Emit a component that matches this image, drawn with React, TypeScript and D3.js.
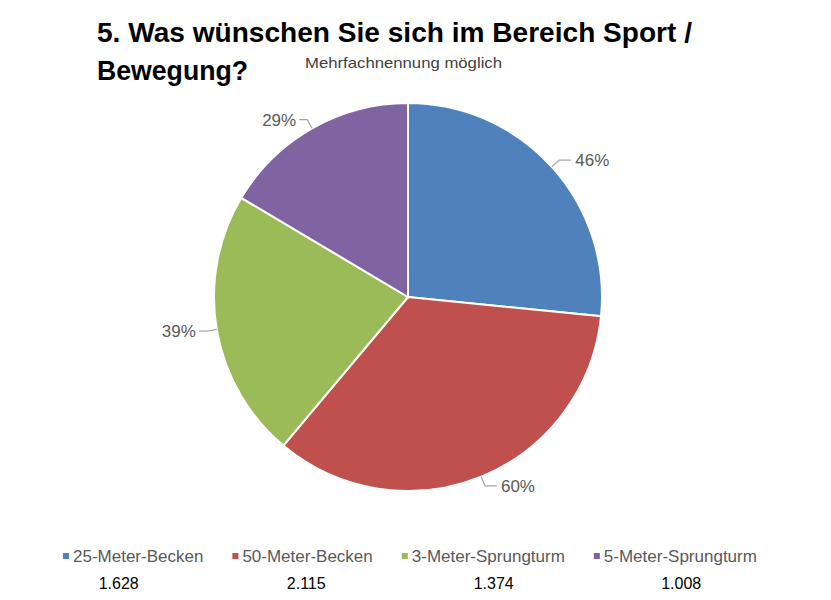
import { useRef, useEffect } from 'react';
import * as d3 from 'd3';

const categories = ['25-Meter-Becken', '50-Meter-Becken', '3-Meter-Sprungturm', '5-Meter-Sprungturm'];
const counts = [1628, 2115, 1374, 1008];
const percentLabels = ['46%', '60%', '39%', '29%'];
const countLabels = ['1.628', '2.115', '1.374', '1.008'];
const colors = ['#4F81BD', '#C0504D', '#9BBB59', '#8064A2'];

const titleLines = ['5. Was wünschen Sie sich im Bereich Sport /', 'Bewegung?'];
const subtitle = 'Mehrfachnennung möglich';

export default function App() {
    const svgRef = useRef<SVGSVGElement>(null);

    useEffect(() => {
        if (!svgRef.current) return;
        const width = 831;
        const height = 600;
        const cx = 408;
        const cy = 297;
        const radius = 194;
        const font = '"Liberation Sans", Arial, sans-serif';

        const svg = d3.select(svgRef.current);
        svg.selectAll('*').remove();
        svg.attr('width', width).attr('height', height);

        svg.append('rect').attr('width', width).attr('height', height).attr('fill', '#fff');

        // Title (condensed to fit the original line widths)
        const titleLengths = [595, 151];
        titleLines.forEach((line, i) => {
            svg.append('text')
                .attr('x', 97)
                .attr('y', 42 + i * 38)
                .attr('font-family', font)
                .attr('font-size', '27px')
                .attr('font-weight', 'bold')
                .attr('fill', '#000')
                .attr('textLength', titleLengths[i])
                .attr('lengthAdjust', 'spacingAndGlyphs')
                .text(line);
        });

        svg.append('text')
            .attr('x', 305)
            .attr('y', 68)
            .attr('font-family', font)
            .attr('font-size', '15px')
            .attr('fill', '#404040')
            .attr('textLength', 197)
            .attr('lengthAdjust', 'spacingAndGlyphs')
            .text(subtitle);

        // Pie
        const pie = d3.pie<number>().sort(null).value(d => d);
        const arcs = pie(counts);
        const arc = d3.arc<d3.PieArcDatum<number>>().innerRadius(0).outerRadius(radius);

        const g = svg.append('g').attr('transform', `translate(${cx},${cy})`);

        g.selectAll('path.slice')
            .data(arcs)
            .enter()
            .append('path')
            .attr('class', 'slice')
            .attr('d', arc)
            .attr('fill', (_, i) => colors[i])
            .attr('stroke', '#fff')
            .attr('stroke-width', 2);

        // Leader lines and labels
        const edgeArc = d3.arc<d3.PieArcDatum<number>>().innerRadius(radius).outerRadius(radius);
        const elbowArc = d3.arc<d3.PieArcDatum<number>>().innerRadius(radius + 10).outerRadius(radius + 10);

        arcs.forEach((a, i) => {
            const mid = (a.startAngle + a.endAngle) / 2;
            const right = Math.sin(mid) > 0;
            const p0 = edgeArc.centroid(a);
            const p1 = elbowArc.centroid(a);
            const p2: [number, number] = [p1[0] + (right ? 12 : -8), p1[1]];

            g.append('polyline')
                .attr('points', [p0, p1, p2].map(p => p.join(',')).join(' '))
                .attr('fill', 'none')
                .attr('stroke', '#a6a6a6')
                .attr('stroke-width', 1.2);

            g.append('text')
                .attr('x', p2[0] + (right ? 4 : -3))
                .attr('y', p2[1])
                .attr('dy', '0.35em')
                .attr('text-anchor', right ? 'start' : 'end')
                .attr('font-family', font)
                .attr('font-size', '17px')
                .attr('fill', '#595959')
                .text(percentLabels[i]);
        });

        // Legend
        const legend = svg.append('g').attr('transform', 'translate(63,556)');
        let lx = 0;
        categories.forEach((c, i) => {
            legend.append('rect')
                .attr('x', lx)
                .attr('y', -3)
                .attr('width', 6)
                .attr('height', 6)
                .attr('fill', colors[i]);
            const t = legend.append('text')
                .attr('x', lx + 10)
                .attr('y', 0)
                .attr('dy', '0.35em')
                .attr('font-family', font)
                .attr('font-size', '17px')
                .attr('fill', '#595959')
                .text(c);
            const w = (t.node() as SVGTextElement).getComputedTextLength();
            lx += 10 + w + 29;
        });

        // Count row
        const xBand = d3.scaleBand<string>().domain(categories).range([25, 775]);
        svg.append('g')
            .selectAll('text')
            .data(categories)
            .enter()
            .append('text')
            .attr('x', d => (xBand(d) ?? 0) + xBand.bandwidth() / 2)
            .attr('y', 583)
            .attr('dy', '0.35em')
            .attr('text-anchor', 'middle')
            .attr('font-family', font)
            .attr('font-size', '16px')
            .attr('fill', '#000')
            .text((_, i) => countLabels[i]);
    }, []);

    return (
        <svg ref={svgRef} style={{ position: 'absolute', left: 0, top: 0, display: 'block' }} />
    );
}
